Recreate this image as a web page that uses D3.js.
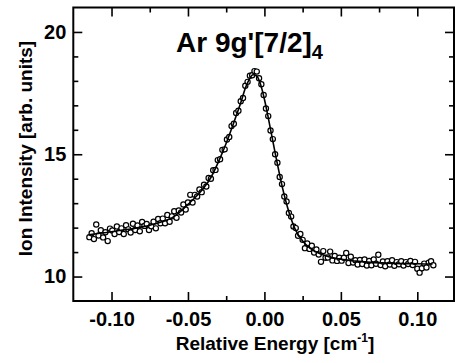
<!DOCTYPE html>
<html>
<head>
<meta charset="utf-8">
<script src="https://cdn.jsdelivr.net/npm/d3@7"></script>
<style>
  body { margin: 0; background: #fff; }
  svg text { font-family: "Liberation Sans", Arial, sans-serif; }
</style>
</head>
<body>
<div id="chart"></div>
<script>
// measured points: relative energy (cm^-1) and ion intensity (arb. units)
const energy = [
  -0.1145,-0.1130,-0.1115,-0.1100,-0.1085,-0.1070,-0.1055,-0.1040,-0.1025,-0.1010,
  -0.0995,-0.0980,-0.0965,-0.0950,-0.0935,-0.0920,-0.0905,-0.0890,-0.0875,-0.0860,
  -0.0845,-0.0830,-0.0815,-0.0800,-0.0785,-0.0770,-0.0755,-0.0740,-0.0725,-0.0710,
  -0.0695,-0.0680,-0.0665,-0.0650,-0.0635,-0.0620,-0.0605,-0.0590,-0.0575,-0.0560,
  -0.0545,-0.0530,-0.0515,-0.0500,-0.0485,-0.0470,-0.0455,-0.0440,-0.0425,-0.0410,
  -0.0395,-0.0380,-0.0365,-0.0350,-0.0335,-0.0320,-0.0305,-0.0290,-0.0275,-0.0260,
  -0.0245,-0.0230,-0.0215,-0.0200,-0.0185,-0.0170,-0.0155,-0.0140,-0.0125,-0.0110,
  -0.0095,-0.0080,-0.0065,-0.0050,-0.0035,-0.0020,-0.0005,0.0010,0.0025,0.0040,
  0.0055,0.0070,0.0085,0.0100,0.0115,0.0130,0.0145,0.0160,0.0175,0.0190,
  0.0205,0.0220,0.0235,0.0250,0.0265,0.0280,0.0295,0.0310,0.0325,0.0340,
  0.0355,0.0370,0.0385,0.0400,0.0415,0.0430,0.0445,0.0460,0.0475,0.0490,
  0.0505,0.0520,0.0535,0.0550,0.0565,0.0580,0.0595,0.0610,0.0625,0.0640,
  0.0655,0.0670,0.0685,0.0700,0.0715,0.0730,0.0745,0.0760,0.0775,0.0790,
  0.0805,0.0820,0.0835,0.0850,0.0865,0.0880,0.0895,0.0910,0.0925,0.0940,
  0.0955,0.0970,0.0985,0.1000,0.1015,0.1030,0.1045,0.1060,0.1075,0.1090,
  0.1105
];
const intensity = [
  11.61,11.77,11.53,12.13,11.68,11.89,11.60,11.81,11.45,11.96,
  11.88,11.74,12.05,11.82,11.97,11.74,12.10,11.93,11.80,12.16,
  11.90,12.09,11.85,12.23,12.07,12.15,11.90,12.06,12.24,11.97,
  12.35,12.18,12.37,12.18,12.52,12.24,12.46,12.67,12.40,12.70,
  12.62,12.95,12.74,13.03,13.34,13.03,13.34,13.27,13.56,13.45,
  13.75,13.68,14.03,14.00,14.35,14.36,14.76,14.80,15.18,15.20,
  15.60,15.71,16.15,16.25,16.69,16.78,17.17,17.30,17.80,17.96,
  18.21,18.23,18.40,18.38,18.11,17.86,17.42,16.87,16.56,15.97,
  15.62,15.00,14.65,14.07,13.78,13.27,13.07,12.60,12.45,12.05,
  11.98,11.67,11.74,11.50,11.16,11.35,11.13,11.26,10.98,11.11,
  10.90,10.60,11.04,10.77,10.78,11.02,10.66,10.84,10.64,10.77,
  10.65,10.77,10.96,10.55,10.81,10.57,10.67,10.49,10.68,10.51,
  10.70,10.45,10.64,10.46,10.70,10.52,10.89,10.47,10.62,10.42,
  10.63,10.49,10.67,10.44,10.59,10.50,10.63,10.45,10.59,10.51,
  10.64,10.47,10.60,10.32,10.16,10.34,10.53,10.37,10.57,10.63,
  10.46
];

// fitted line profile
const fitEnergy = [
  -0.115,-0.110,-0.105,-0.100,-0.095,-0.090,-0.085,-0.080,-0.075,-0.070,
  -0.065,-0.060,-0.055,-0.050,-0.045,-0.040,-0.035,-0.030,-0.025,-0.020,
  -0.015,-0.0125,-0.010,-0.0075,-0.005,-0.0025,0.000,0.0025,0.005,0.0075,
  0.010,0.0125,0.015,0.0175,0.020,0.025,0.030,0.035,0.040,0.045,
  0.050,0.055,0.060,0.070,0.080,0.090,0.100,0.110
];
const fitIntensity = [
  11.71,11.75,11.79,11.83,11.88,11.92,11.97,12.03,12.10,12.18,
  12.28,12.42,12.65,12.95,13.25,13.60,14.05,14.70,15.45,16.30,
  17.20,17.70,18.05,18.25,18.20,17.85,17.25,16.50,15.70,14.90,
  14.15,13.45,12.85,12.35,11.95,11.45,11.15,10.97,10.85,10.77,
  10.71,10.67,10.63,10.58,10.55,10.53,10.52,10.51
];

const xTicks = [-0.10, -0.05, 0.00, 0.05, 0.10];
const xMinorTicks = [-0.075, -0.025, 0.025, 0.075];
const yTicks = [10, 15, 20];
const yMinorTicks = [11, 12, 13, 14, 16, 17, 18, 19];

const width = 455;
const height = 363;

const svg = d3.select('#chart')
  .append('svg')
  .attr('width', width)
  .attr('height', height);

const x = d3.scaleLinear().domain([-0.125, 0.124]).range([73.3, 454]);
const y = d3.scaleLinear().domain([9, 21]).range([301, 7.5]);

const fmt = d => d3.format('.2f')(d).replace('\u2212', '-');

function addAxis(axis, tx, ty) {
  const g = svg.append('g')
    .attr('transform', `translate(${tx},${ty})`)
    .call(axis);
  g.select('.domain').remove();
  g.selectAll('.tick line').attr('stroke', '#000').attr('stroke-width', 1.6);
  g.selectAll('.tick text')
    .attr('fill', '#000')
    .attr('font-size', 20)
    .attr('font-weight', 'bold');
  return g;
}

// bottom / top
addAxis(d3.axisBottom(x).tickValues(xTicks).tickSize(-9).tickPadding(11).tickFormat(fmt), 0, 301);
addAxis(d3.axisBottom(x).tickValues(xMinorTicks).tickSize(-5).tickFormat(''), 0, 301);
addAxis(d3.axisTop(x).tickValues(xTicks).tickSize(-9).tickFormat(''), 0, 7.5);
addAxis(d3.axisTop(x).tickValues(xMinorTicks).tickSize(-5).tickFormat(''), 0, 7.5);
// left / right
addAxis(d3.axisLeft(y).tickValues(yTicks).tickSize(-9).tickPadding(7).tickFormat(d3.format('d')), 73.3, 0);
addAxis(d3.axisLeft(y).tickValues(yMinorTicks).tickSize(-5).tickFormat(''), 73.3, 0);
addAxis(d3.axisRight(y).tickValues(yTicks).tickSize(-9).tickFormat(''), 454, 0);
addAxis(d3.axisRight(y).tickValues(yMinorTicks).tickSize(-5).tickFormat(''), 454, 0);

// frame
svg.append('rect')
  .attr('x', x.range()[0])
  .attr('y', y.range()[1])
  .attr('width', x.range()[1] - x.range()[0])
  .attr('height', y.range()[0] - y.range()[1])
  .attr('fill', 'none')
  .attr('stroke', '#000')
  .attr('stroke-width', 2);

// data points
const points = energy.map((e, i) => ({ e, v: intensity[i] }));
svg.append('g')
  .selectAll('circle')
  .data(points)
  .enter().append('circle')
  .attr('cx', d => x(d.e))
  .attr('cy', d => y(d.v))
  .attr('r', 2.6)
  .attr('fill', '#fff')
  .attr('stroke', '#000')
  .attr('stroke-width', 1.2);

// fit
const fit = fitEnergy.map((e, i) => ({ e, v: fitIntensity[i] }));
const line = d3.line()
  .x(d => x(d.e))
  .y(d => y(d.v))
  .curve(d3.curveMonotoneX);
svg.append('path')
  .datum(fit)
  .attr('d', line)
  .attr('fill', 'none')
  .attr('stroke', '#000')
  .attr('stroke-width', 1.6);

// title
const title = svg.append('text')
  .attr('x', 176)
  .attr('y', 51.7)
  .attr('font-size', 28)
  .attr('font-weight', 'bold');
title.append('tspan').text("Ar 9g'[7/2]");
title.append('tspan').attr('font-size', 20).attr('dy', 7).text('4');

// axis titles
const xl = svg.append('text')
  .attr('x', 275)
  .attr('y', 350)
  .attr('text-anchor', 'middle')
  .attr('font-size', 19)
  .attr('font-weight', 'bold');
xl.append('tspan').text('Relative Energy [cm');
xl.append('tspan').attr('font-size', 12).attr('dy', -8).text('-1');
xl.append('tspan').attr('dy', 8).text(']');

svg.append('text')
  .attr('transform', 'translate(32,148.5) rotate(-90)')
  .attr('text-anchor', 'middle')
  .attr('font-size', 19)
  .attr('font-weight', 'bold')
  .text('Ion Intensity [arb. units]');
</script>
</body>
</html>
